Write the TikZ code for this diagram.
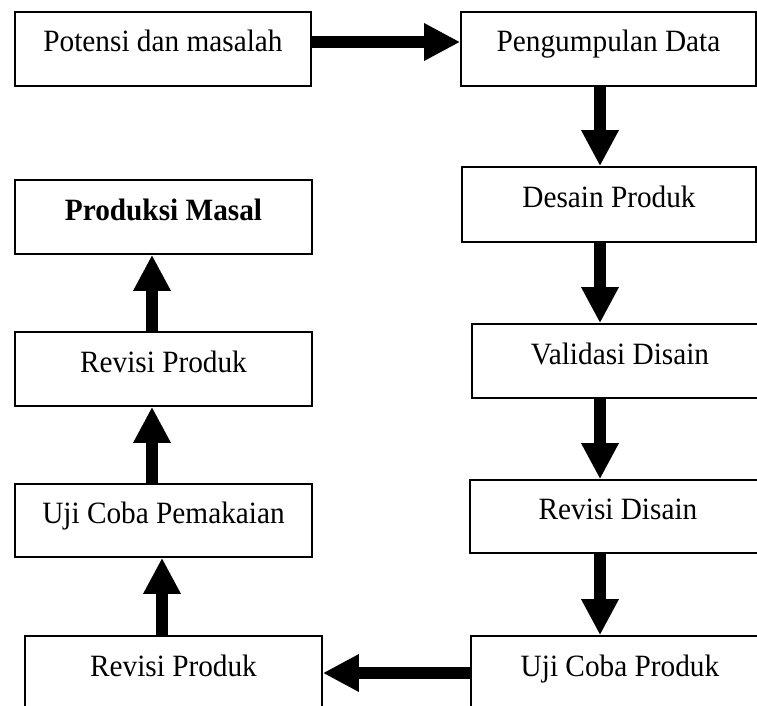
\documentclass[tikz,border=0pt]{standalone}
\usepackage{fontspec}
\setmainfont[FakeStretch=0.945]{Liberation Serif}
\usetikzlibrary{arrows.meta}

\begin{document}
\begin{tikzpicture}[x=1pt,y=-1pt,
  box/.style={draw,line width=1.6pt,minimum height=74pt,inner sep=0pt,
    text height=20pt,text depth=14pt,font=\fontsize{31}{36}\selectfont},
  arr/.style={line width=12pt,-{Triangle[length=36pt,width=35pt]}}
]
\clip (0,0) rectangle (757,706);
\node[box,minimum width=296pt] (pot) at (163,49) {Potensi dan masalah};
\node[box,minimum width=295pt] (kumpul) at (608.5,49) {Pengumpulan Data};
\node[box,minimum width=294pt,minimum height=75pt] (desain) at (609,204.5) {Desain Produk};
\node[box,minimum width=296pt] (valid) at (620,361) {Validasi Disain};
\node[box,minimum width=296pt,minimum height=73pt] (revdis) at (618,516.5) {Revisi Disain};
\node[box,minimum width=298pt] (ujiprod) at (620,673) {Uji Coba Produk};
\node[box,minimum width=297pt] (revprod) at (173.5,673) {Revisi Produk};
\node[box,minimum width=297pt,minimum height=73pt] (ujipakai) at (163.5,520.5) {Uji Coba Pemakaian};
\node[box,minimum width=297pt] (revisi) at (163.5,369) {Revisi Produk};
\node[box,minimum width=297pt] (masal) at (163.5,217) {\textbf{Produksi Masal}};

\coordinate (colR) at (600,0);
\coordinate (colL) at (152,0);
\coordinate (colB) at (162,0);

\draw[arr] ([yshift=7pt]pot.east) -- ([yshift=7pt]kumpul.west);
\draw[arr] (kumpul.south -| colR) -- (desain.north -| colR);
\draw[arr] (desain.south -| colR) -- (valid.north -| colR);
\draw[arr] (valid.south -| colR) -- (revdis.north -| colR);
\draw[arr] (revdis.south -| colR) -- (ujiprod.north -| colR);
\draw[arr] (ujiprod.west) -- (revprod.east);
\draw[arr] (revprod.north -| colB) -- (ujipakai.south -| colB);
\draw[arr] (ujipakai.north -| colL) -- (revisi.south -| colL);
\draw[arr] (revisi.north -| colL) -- (masal.south -| colL);
\end{tikzpicture}
\end{document}
